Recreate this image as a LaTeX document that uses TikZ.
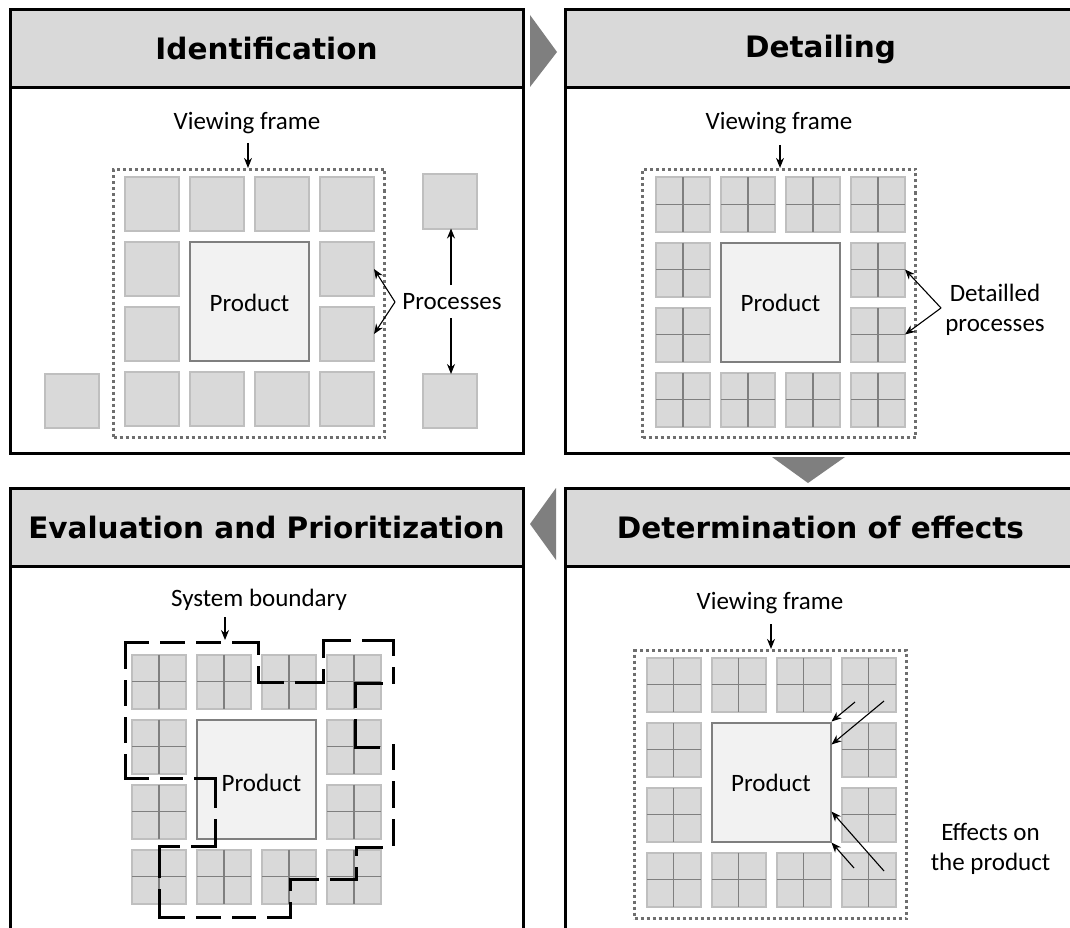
\documentclass[tikz,border=0pt]{standalone}
\usepackage{fontspec}
\setmainfont{Carlito}
\newfontfamily\titlefont{DejaVu Sans}
\usetikzlibrary{arrows.meta,calc}

\definecolor{hdrgray}{HTML}{D9D9D9}
\definecolor{boxgray}{HTML}{D9D9D9}
\definecolor{boxedge}{HTML}{BFBFBF}
\definecolor{midgray}{HTML}{7F7F7F}
\definecolor{dotgray}{HTML}{6E6E6E}
\definecolor{prodfill}{HTML}{F2F2F2}

\tikzset{
  panel/.style={draw=black, line width=3pt, fill=white},
  header/.style={draw=black, line width=3pt, fill=hdrgray, inner sep=0pt,
    minimum height=78pt, font=\titlefont\bfseries\fontsize{29.5}{34}\selectfont},
  proc/.style={draw=boxedge, fill=boxgray, line width=2pt, minimum size=54pt,
    inner sep=0pt, outer sep=0pt},
  crossline/.style={draw=midgray, line width=1.2pt},
  product/.style={draw=midgray, fill=prodfill, line width=2pt, minimum size=119pt,
    inner sep=0pt},
  frame/.style={draw=dotgray, line width=3.2pt, dash pattern=on 3pt off 3pt,
    inner sep=0pt},
  boundary/.style={draw=black, line width=3pt, line cap=rect},
  lbl/.style={font=\fontsize{25}{30}\selectfont, inner sep=0pt, align=center},
  arr/.style={draw=black, line width=1.1pt, -{Stealth[length=10pt,width=8pt]}},
  stagearrow/.style={fill=midgray, draw=none},
}

% 4x4 ring of process boxes around the product box
% #1,#2: centre of the upper left box, #3: name prefix, #4: 1 = split boxes,
% #5: offset of the product caption
\newcommand\procgrid[5]{%
  \foreach \ci in {1,...,4}{%
    \foreach \ri in {1,...,4}{%
      \pgfmathtruncatemacro\incore{(\ci>1)*(\ci<4)*(\ri>1)*(\ri<4)}%
      \ifnum\incore=0
        \node[proc] (#3\ci\ri) at ({#1+(\ci-1)*65},{#2+(\ri-1)*65}) {};
        \ifnum#4=1
          \draw[crossline] (#3\ci\ri.north) -- (#3\ci\ri.south)
                           (#3\ci\ri.west) -- (#3\ci\ri.east);
        \fi
      \fi
    }%
  }%
  \node[product] (#3p) at ({#1+97.5},{#2+97.5}) {};
  \node[lbl] (#3pt) at ($(#3p)+(#5)$) {Product};
}

% one straight piece of the dashed system boundary; the dashes are
% stretched so that the piece starts and ends with a dash
\newcommand\bseg[4]{%
  \pgfmathsetmacro\seglen{veclen(#3-#1,#4-#2)}%
  \pgfmathsetmacro\segn{(\seglen>30) ? max(2,round((\seglen+11)/37)) : 1}%
  \pgfmathsetmacro\segon{(\seglen-(\segn-1)*11)/\segn-3}%
  \draw[boundary, dash pattern=on \segon pt off 14pt] (#1,#2) -- (#3,#4);
}

\begin{document}
\begin{tikzpicture}[x=1pt,y=-1pt]
\useasboundingbox (0,0) rectangle (1070,928);
\fill[white] (0,0) rectangle (1070,928);
\clip (0,0) rectangle (1070,928);

% panels and headers
\draw[panel] (10,10) rectangle (523,453);
\node[header, minimum width=513pt] (h1) at (266.5,49) {Identification};
\draw[panel] (565,10) rectangle (1076,453);
\node[header, minimum width=511pt] (h2) at (820.5,49) {Detailing};
\draw[panel] (10,488) rectangle (523,1000);
\node[header, minimum width=513pt] (h3) at (266.5,527) {Evaluation and Prioritization};
\draw[panel] (565,488) rectangle (1076,1000);
\node[header, minimum width=511pt] (h4) at (820.5,527) {Determination of effects};

% stage arrows
\fill[stagearrow] (530,15) -- (557,52) -- (530,87) -- cycle;
\fill[stagearrow] (772,457) -- (845,457) -- (808,483) -- cycle;
\fill[stagearrow] (556,488) -- (556,560) -- (530,524) -- cycle;

% ---- Identification
\procgrid{152}{204}{a}{0}{0,1}
\node[proc] (ax1) at (72,401) {};
\node[proc] (ax2) at (450,201.5) {};
\node[proc] (ax3) at (450,401) {};
\node[frame, minimum width=271pt, minimum height=268pt] (af) at (249,303.5) {};
\node[lbl] (avf) at (247,123) {Viewing frame};
\coordinate (avfa) at (248,143);
\draw[arr] (avfa) -- (avfa |- af.north);
\node[lbl] (aproc) at (452,302) {Processes};
\coordinate (abr) at (395,302);
\draw[arr] (abr) -- (a42.east);
\draw[arr] (abr) -- (a43.east);
\coordinate (av1) at (451,285);
\coordinate (av2) at (451,318);
\draw[arr] (av1) -- (av1 |- ax2.south);
\draw[arr] (av2) -- (av2 |- ax3.north);

% ---- Detailing
\procgrid{683}{204.5}{b}{1}{0,1}
\node[frame, minimum width=273pt, minimum height=268pt] (bf) at (779,303.5) {};
\node[lbl] (bvf) at (779,123) {Viewing frame};
\coordinate (bvfa) at (780,145);
\draw[arr] (bvfa) -- (bvfa |- bf.north);
\node[lbl] (bproc) at (995,310) {Detailled\\processes};
\coordinate (bbr) at (941,308);
\draw[arr] (bbr) -- (b42.east);
\draw[arr] (bbr) -- (b43.east);

% ---- Evaluation and Prioritization
\procgrid{159}{681.5}{c}{1}{5,4}
\bseg{125}{778.7}{125}{642}
\bseg{125}{642}{258.3}{642}
\bseg{258.3}{642}{258.3}{682.7}
\bseg{258.3}{682.7}{323.3}{682.7}
\bseg{323.3}{682.7}{323.3}{640.3}
\bseg{323.3}{640.3}{393.3}{640.3}
\bseg{393.3}{640.3}{393.3}{685}
\bseg{381.7}{683.7}{355.7}{683.7}
\bseg{355.7}{683.7}{355.7}{747}
\bseg{355.7}{747}{381.7}{747}
\bseg{393.3}{745}{393.3}{847}
\bseg{381.7}{847}{356.7}{847}
\bseg{356.7}{847}{356.7}{879.3}
\bseg{356.7}{879.3}{290}{879.3}
\bseg{290}{879.3}{290}{917}
\bseg{290}{917}{159.3}{917}
\bseg{159.3}{917}{159.3}{846}
\bseg{159.3}{846}{215}{846}
\bseg{215}{846}{215}{778.7}
\bseg{215}{778.7}{125}{778.7}
\node[lbl] (csb) at (259,600) {System boundary};
\coordinate (csba) at (225,617);
\coordinate (csbt) at (225,640);
\draw[arr] (csba) -- (csbt);

% ---- Determination of effects
\procgrid{673.5}{684.5}{d}{1}{0,1}
\node[frame, minimum width=272pt, minimum height=268pt] (df) at (770.5,784.5) {};
\node[lbl] (dvf) at (770,603) {Viewing frame};
\coordinate (dvfa) at (771,624);
\draw[arr] (dvfa) -- (dvfa |- df.north);
\node[lbl] (deff) at (990.5,848.5) {Effects on\\the product};
\coordinate (de1) at (855,702);
\coordinate (de2) at (884,701);
\coordinate (de3) at (884,871);
\coordinate (de4) at (854,868);
\draw[arr] (de1) -- (dp.north east);
\draw[arr] (de2) -- ([yshift=-23pt]dp.north east);
\draw[arr] (de3) -- ([yshift=31pt]dp.south east);
\draw[arr] (de4) -- (dp.south east);
\end{tikzpicture}
\end{document}
